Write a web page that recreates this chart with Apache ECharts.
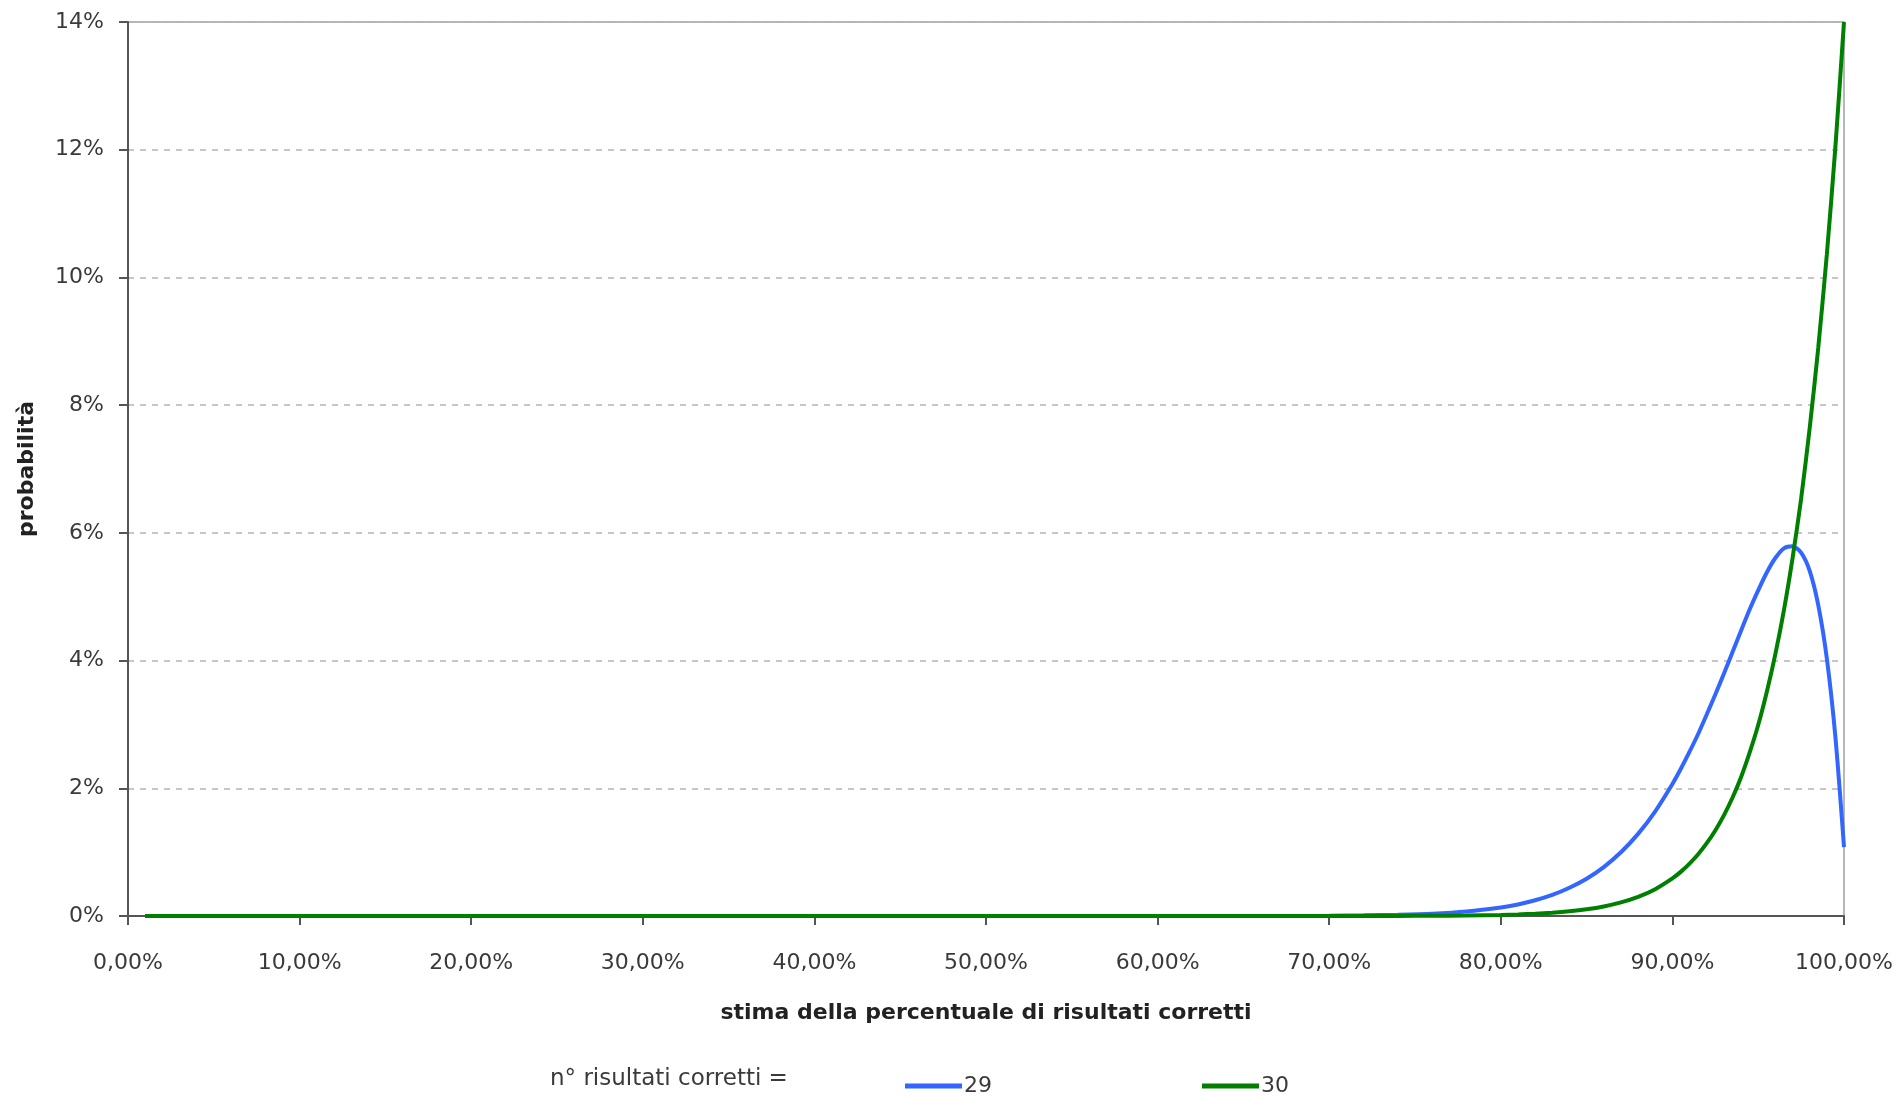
<!DOCTYPE html>
<html>
<head>
<meta charset="utf-8">
<style>
  html, body { margin: 0; padding: 0; background: #ffffff; }
  #chart { width: 1903px; height: 1100px; }
</style>
<script src="https://cdn.jsdelivr.net/npm/echarts@6/dist/echarts.min.js"></script>
</head>
<body>
<div id="chart"></div>
<script>
// x positions (stima della percentuale, %)
const xValues = [1, 10, 20, 30, 40, 50, 60, 70, 72, 74, 76, 78, 80, 81, 82, 83, 84, 85, 86, 87, 88, 89,
  90, 90.5, 91, 91.5, 92, 92.5, 93, 93.5, 94, 94.5, 95, 95.5, 96, 96.5, 97, 97.5, 98, 98.5, 99, 99.5, 100];

// probabilità (%) — n° risultati corretti = 29
const series29 = [0, 0, 0, 0, 0, 0, 0, 0.004, 0.01, 0.02, 0.036, 0.07, 0.133, 0.181, 0.246, 0.33, 0.442, 0.584, 0.766, 0.998, 1.286, 1.64,
  2.068, 2.31, 2.573, 2.85, 3.155, 3.47, 3.793, 4.13, 4.468, 4.8, 5.1, 5.379, 5.606, 5.758, 5.79, 5.69, 5.405, 4.868, 4.031, 2.8, 1.08];

// probabilità (%) — n° risultati corretti = 30
const series30 = [0, 0, 0, 0, 0, 0, 0, 0.0003, 0.0007, 0.0014, 0.004, 0.0079, 0.017, 0.0247, 0.0358, 0.0516, 0.0739, 0.1054, 0.1497, 0.2124, 0.2992, 0.42,
  0.588, 0.695, 0.821, 0.967, 1.14, 1.34, 1.576, 1.852, 2.173, 2.557, 2.99, 3.507, 4.1, 4.79, 5.6, 6.53, 7.64, 8.9, 10.36, 12.05, 14.0];

const yTicks = [0, 2, 4, 6, 8, 10, 12, 14];
const xTicks = [0, 10, 20, 30, 40, 50, 60, 70, 80, 90, 100];

const seriesNames = ['29', '30'];
const seriesColors = ['#3366ff', '#008000'];

const FONT = '"DejaVu Sans", sans-serif';
const chart = echarts.init(document.getElementById('chart'), null, { renderer: 'canvas' });

const pairs = (ys) => xValues.map((x, i) => [x, ys[i]]);

chart.setOption({
  animation: false,
  backgroundColor: '#ffffff',
  grid: {
    left: 128, right: 59, top: 22, bottom: 184,
    show: true, borderColor: '#a0a0a0', borderWidth: 1.5, backgroundColor: 'transparent'
  },
  xAxis: {
    type: 'value',
    min: xTicks[0], max: xTicks[xTicks.length - 1], interval: 10,
    name: 'stima della percentuale di risultati corretti',
    nameLocation: 'middle', nameGap: 86,
    nameTextStyle: { fontFamily: FONT, fontSize: 22, fontWeight: 'bold', color: '#222' },
    axisLine: { show: true, lineStyle: { color: '#555', width: 2 } },
    axisTick: { show: true, length: 9, inside: false, lineStyle: { color: '#555', width: 2 } },
    axisLabel: {
      margin: 36, fontFamily: FONT, fontSize: 22, color: '#3a3a3a',
      formatter: (v) => v.toFixed(2).replace('.', ',') + '%'
    },
    splitLine: { show: false }
  },
  yAxis: {
    type: 'value',
    min: yTicks[0], max: yTicks[yTicks.length - 1], interval: 2,
    name: 'probabilità',
    nameLocation: 'middle', nameGap: 90, nameRotate: 90,
    nameTextStyle: { fontFamily: FONT, fontSize: 22, fontWeight: 'bold', color: '#222' },
    axisLine: { show: true, lineStyle: { color: '#555', width: 2 } },
    axisTick: { show: true, length: 9, lineStyle: { color: '#555', width: 2 } },
    axisLabel: {
      margin: 24, fontFamily: FONT, fontSize: 22, color: '#3a3a3a',
      formatter: (v) => v + '%'
    },
    splitLine: { show: true, lineStyle: { color: '#b4b4b4', width: 1.5, type: [6, 6] } }
  },
  legend: {
    left: 900, top: 1070,
    itemWidth: 57, itemHeight: 5, itemGap: 210,
    icon: 'rect',
    textStyle: { fontFamily: FONT, fontSize: 22, color: '#3a3a3a', padding: [0, 0, 0, -3] },
    data: seriesNames
  },
  graphic: [{
    type: 'text', left: 550, top: 1068,
    style: { text: 'n° risultati corretti =', font: '23px "DejaVu Sans", sans-serif', fill: '#3a3a3a' }
  }],
  series: [
    {
      name: seriesNames[0], type: 'line', data: pairs(series29),
      showSymbol: false, smooth: 0.25, color: seriesColors[0],
      lineStyle: { width: 4, color: seriesColors[0] }, z: 2
    },
    {
      name: seriesNames[1], type: 'line', data: pairs(series30),
      showSymbol: false, smooth: 0.25, color: seriesColors[1],
      lineStyle: { width: 4, color: seriesColors[1] }, z: 3
    }
  ]
});
</script>
</body>
</html>
